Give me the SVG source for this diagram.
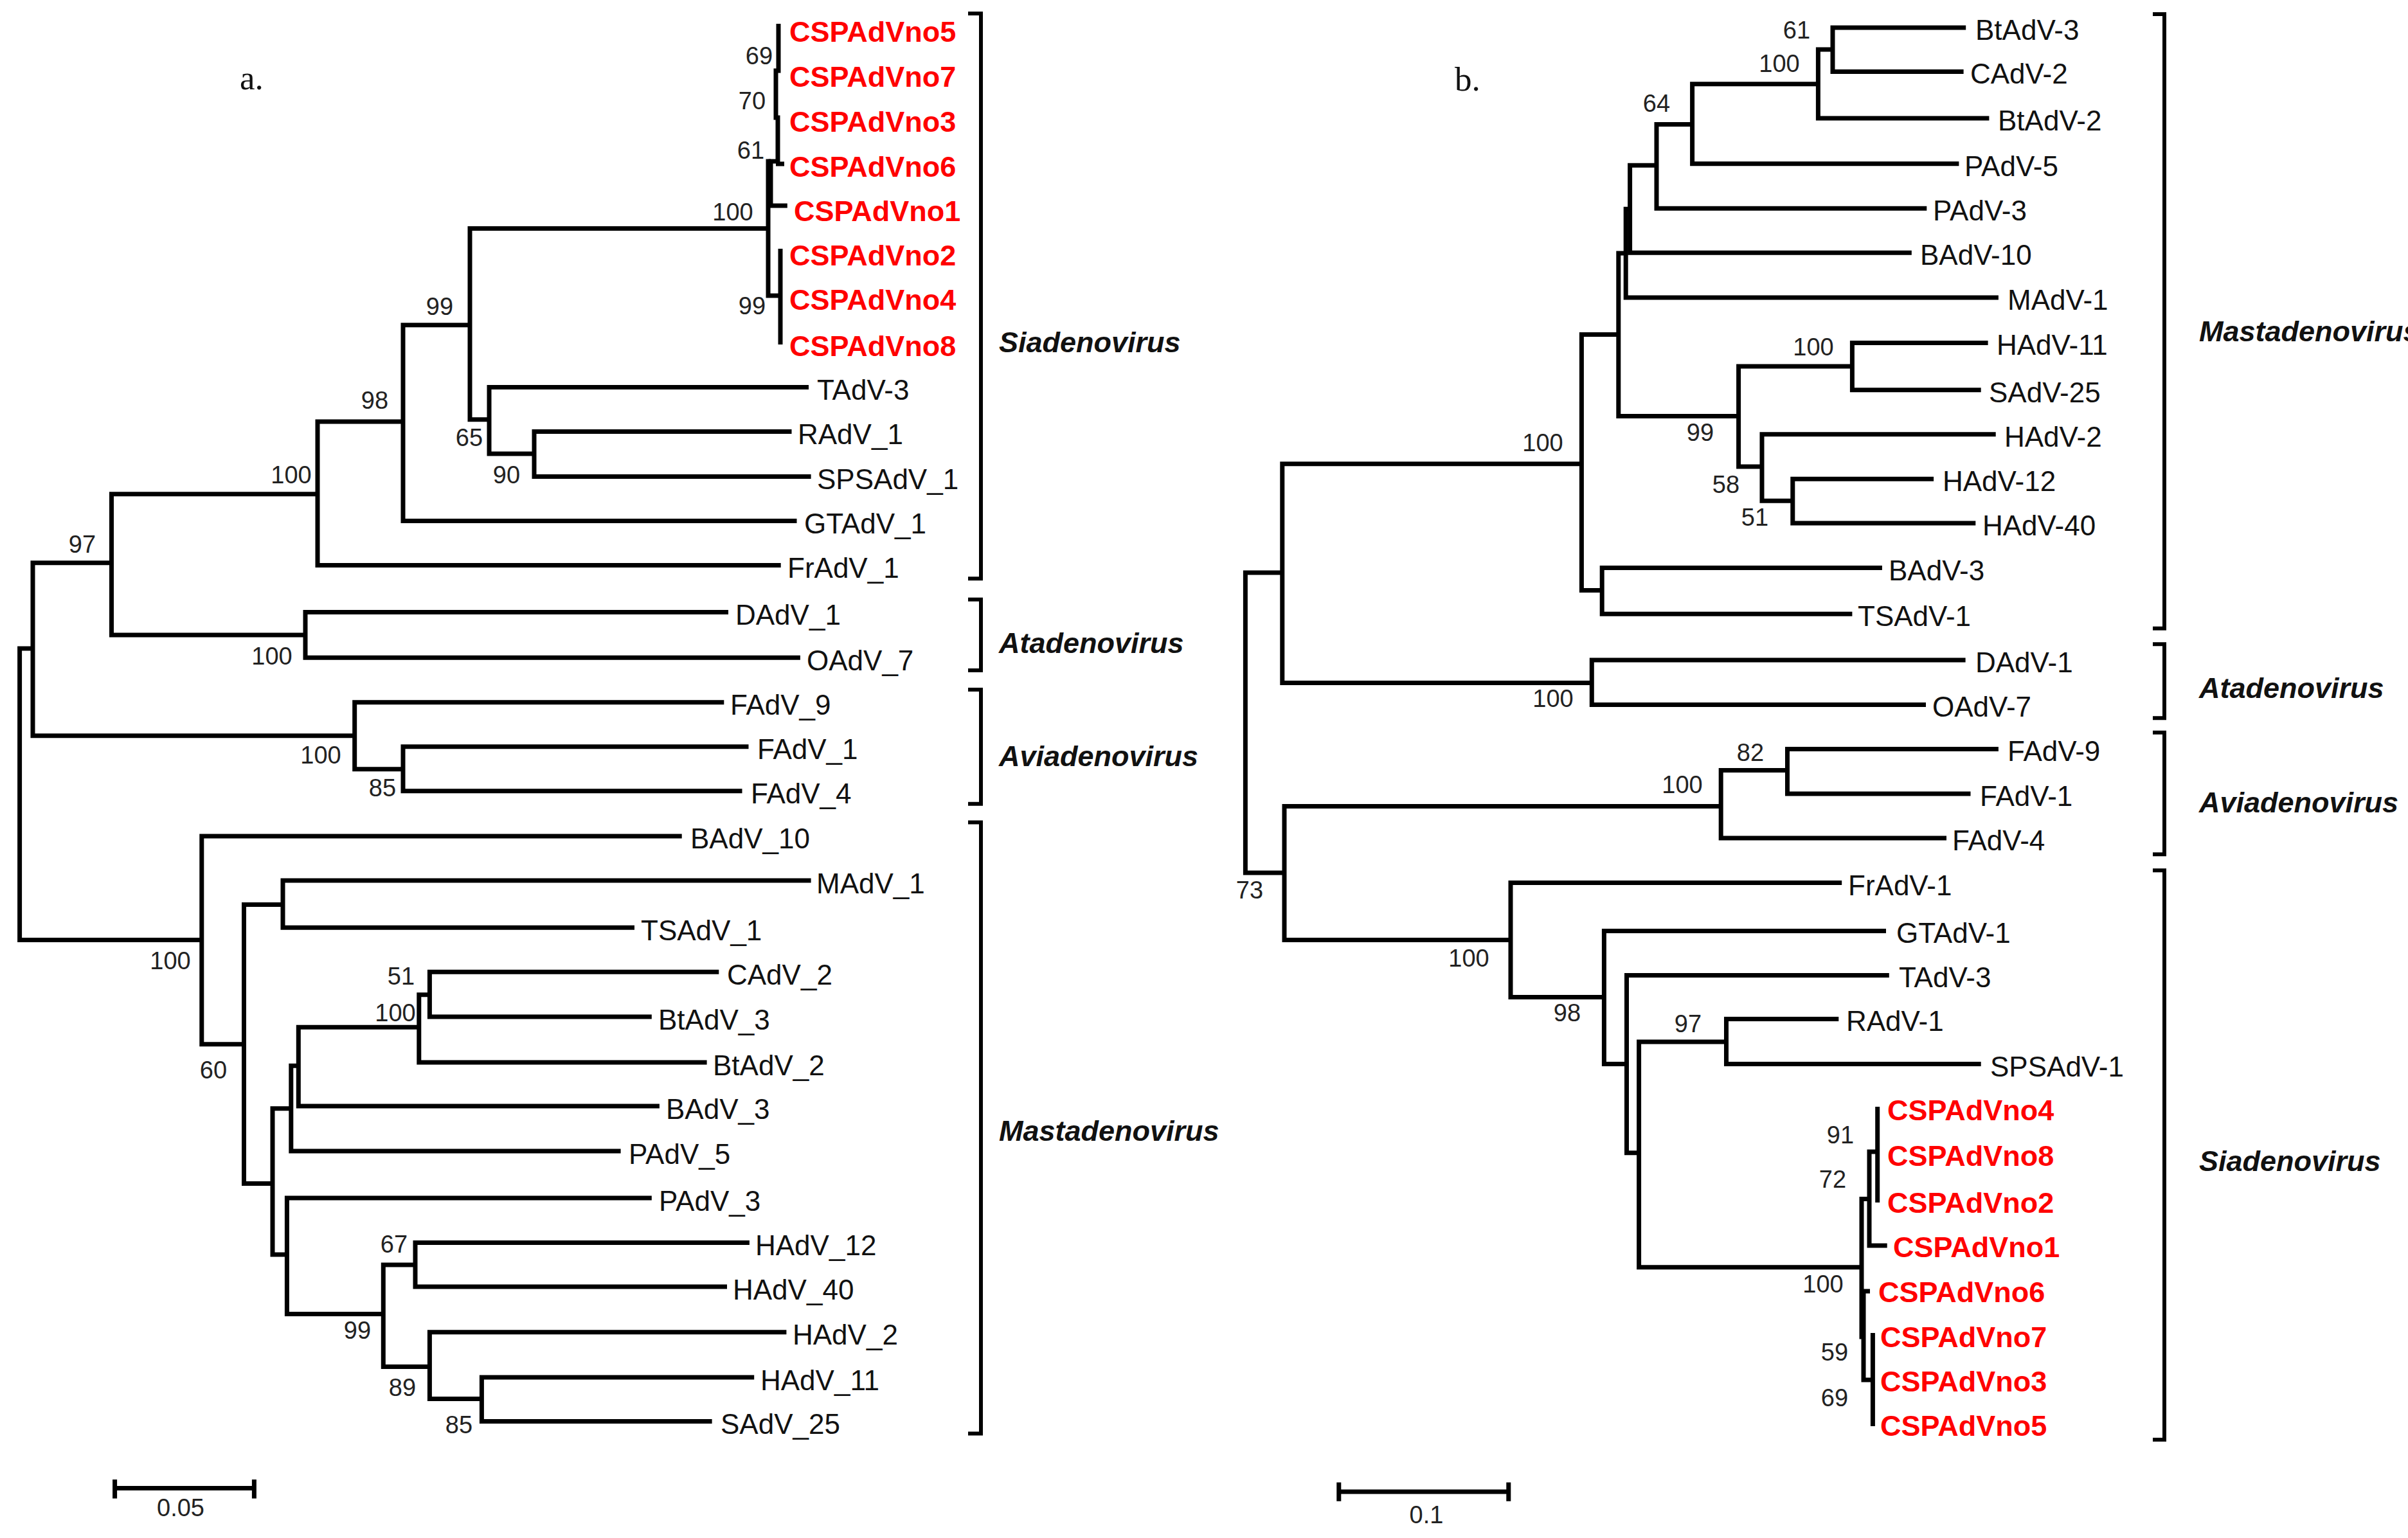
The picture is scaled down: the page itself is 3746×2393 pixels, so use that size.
<svg xmlns="http://www.w3.org/2000/svg" width="3746" height="2393" viewBox="0 0 3746 2393">
<style>
.br{fill:none;stroke:#000;stroke-width:7;stroke-linejoin:miter;stroke-linecap:butt}
.bk{fill:none;stroke:#000;stroke-width:6;stroke-linecap:butt}
.bs{font-family:"Liberation Sans",Arial,sans-serif;font-size:38px;fill:#222;text-anchor:middle}
.lf{font-family:"Liberation Sans",Arial,sans-serif;font-size:44px;fill:#111}
.csp{font-family:"Liberation Sans",Arial,sans-serif;font-size:45px;font-weight:bold;fill:#ff0000}
.cl{font-family:"Liberation Sans",Arial,sans-serif;font-size:45px;font-weight:bold;font-style:italic;fill:#111}
.pn{font-family:"Liberation Serif","Times New Roman",serif;font-size:53px;fill:#111}
</style>
<rect width="3746" height="2393" fill="#fff"/>
<text class="pn" x="373" y="139">a.</text>
<text class="pn" x="2263" y="141">b.</text>

<g id="connectors">
<!-- tree a -->
<path class="br" d="M51 1009H30.6V1462.5H313.8"/>
<path class="br" d="M173.5 875.7H51V1144.8H551.7"/>
<path class="br" d="M494 768.8H173.5V988H475"/>
<path class="br" d="M627 656H494V879.4H1214.7"/>
<path class="br" d="M731 505.8H627V810.5H1239.5"/>
<path class="br" d="M1195 355.6H731V652.7H761"/>
<path class="br" d="M1258 602.5H761V706H831"/>
<path class="br" d="M1231.5 671.5H831V741.6H1261.6"/>
<path class="br" d="M1199 251H1195V460H1214"/>
<path class="br" d="M1214 387V536"/>
<path class="br" d="M1211 37V110H1207V183H1210V251H1199V320H1224.8"/>
<path class="br" d="M1207 255H1220"/>
<path class="br" d="M1133 952.6H475V1023.2H1244.9"/>
<path class="br" d="M1126.3 1092.8H551.7V1196.8H627"/>
<path class="br" d="M1164.5 1161.8H627V1230.8H1154.5"/>
<path class="br" d="M1060.7 1300.9H313.8V1624.8H379.5"/>
<path class="br" d="M440 1407.6H379.5V1841.6H424"/>
<path class="br" d="M1261.6 1370H440V1443.2H987"/>
<path class="br" d="M452.8 1724.7H424V1952H446.4"/>
<path class="br" d="M464.3 1658.3H452.8V1791H965.6"/>
<path class="br" d="M651.8 1598.3H464.3V1721H1025.9"/>
<path class="br" d="M668.4 1547.8H651.8V1653H1099.6"/>
<path class="br" d="M1118.3 1512.2H668.4V1582H1013.8"/>
<path class="br" d="M1013.8 1864H446.4V2044.6H596.3"/>
<path class="br" d="M646 1968H596.3V2126.4H668.4"/>
<path class="br" d="M1165.9 1933.5H646V2002H1131"/>
<path class="br" d="M1223.4 2072.7H668.4V2176.4H749.4"/>
<path class="br" d="M1173.2 2142.9H749.4V2211.4H1107.6"/>
<!-- tree b -->
<path class="br" d="M1994.8 890.9H1937.4V1357.9H1998"/>
<path class="br" d="M2460.4 721.8H1994.8V1062.4H2476.3"/>
<path class="br" d="M2517.8 520.4H2460.4V918.6H2492.2"/>
<path class="br" d="M2529.2 394.1H2517.8V647.5H2704.6"/>
<path class="br" d="M2535.6 325.3H2529.2V462.9H3108.9"/>
<path class="br" d="M2577 257.3H2535.6V393.3H2973.8"/>
<path class="br" d="M2632.6 193.5H2577V324.3H2997.3"/>
<path class="br" d="M2828.4 130.8H2632.6V254.7H3047.4"/>
<path class="br" d="M2851 76.9H2828.4V184.1H3094.4"/>
<path class="br" d="M3058.2 42.9H2851V111.4H3054.6"/>
<path class="br" d="M2881.4 570H2704.6V726H2741"/>
<path class="br" d="M3092.6 533.5H2881.4V606.7H3081.7"/>
<path class="br" d="M3104.7 675.7H2741V779.3H2788.8"/>
<path class="br" d="M3008.1 745.3H2788.8V814H3073.3"/>
<path class="br" d="M2927.9 883.6H2492.2V955.2H2881.4"/>
<path class="br" d="M3057.6 1026.9H2476.3V1096.4H2996"/>
<path class="br" d="M2677.2 1254.4H1998V1462.5H2350"/>
<path class="br" d="M2780.5 1198.4H2677.2V1304H3028"/>
<path class="br" d="M3108.9 1165.5H2780.5V1235H3065.5"/>
<path class="br" d="M2865.2 1373.6H2350V1551.4H2495.4"/>
<path class="br" d="M2934 1448.4H2495.4V1655.6H2530.5"/>
<path class="br" d="M2938.8 1517.4H2530.5V1793.8H2549.6"/>
<path class="br" d="M2685.5 1621H2549.6V1971.8H2896"/>
<path class="br" d="M2860.3 1585.5H2685.5V1655.6H3081.7"/>
<path class="br" d="M2908 1865.5H2896V2080H2899"/>
<path class="br" d="M2920.7 1792H2908V1938H2935.7"/>
<path class="br" d="M2920.7 1722V1871"/>
<path class="br" d="M2899 2009V2147H2913.4"/>
<path class="br" d="M2899 2009H2909"/>
<path class="br" d="M2913.4 2074V2219"/>
</g>

<g id="bootstrap-a">
<text class="bs" x="1181" y="100">69</text>
<text class="bs" x="1170" y="170">70</text>
<text class="bs" x="1168" y="247">61</text>
<text class="bs" x="1140" y="343">100</text>
<text class="bs" x="1170" y="489">99</text>
<text class="bs" x="684" y="490">99</text>
<text class="bs" x="583" y="636">98</text>
<text class="bs" x="730" y="694">65</text>
<text class="bs" x="788" y="752">90</text>
<text class="bs" x="453" y="752">100</text>
<text class="bs" x="128" y="860">97</text>
<text class="bs" x="423" y="1034">100</text>
<text class="bs" x="499" y="1188">100</text>
<text class="bs" x="595" y="1239">85</text>
<text class="bs" x="265" y="1508">100</text>
<text class="bs" x="624" y="1532">51</text>
<text class="bs" x="615" y="1589">100</text>
<text class="bs" x="332" y="1678">60</text>
<text class="bs" x="613" y="1949">67</text>
<text class="bs" x="556" y="2083">99</text>
<text class="bs" x="626" y="2172">89</text>
<text class="bs" x="714" y="2230">85</text>
</g>
<g id="bootstrap-b">
<text class="bs" x="2795" y="60">61</text>
<text class="bs" x="2768" y="112">100</text>
<text class="bs" x="2577" y="174">64</text>
<text class="bs" x="2821" y="553">100</text>
<text class="bs" x="2645" y="686">99</text>
<text class="bs" x="2400" y="702">100</text>
<text class="bs" x="2685" y="767">58</text>
<text class="bs" x="2730" y="818">51</text>
<text class="bs" x="2416" y="1100">100</text>
<text class="bs" x="2723" y="1184">82</text>
<text class="bs" x="2617" y="1234">100</text>
<text class="bs" x="1944" y="1398">73</text>
<text class="bs" x="2285" y="1504">100</text>
<text class="bs" x="2438" y="1589">98</text>
<text class="bs" x="2626" y="1606">97</text>
<text class="bs" x="2863" y="1779">91</text>
<text class="bs" x="2851" y="1848">72</text>
<text class="bs" x="2836" y="2011">100</text>
<text class="bs" x="2854" y="2117">59</text>
<text class="bs" x="2854" y="2188">69</text>
</g>

<g id="leaves-a">
<g id="a-CSPAdVno5"><text class="csp" x="1228" y="65">CSPAdVno5</text></g>
<g id="a-CSPAdVno7"><text class="csp" x="1228" y="135">CSPAdVno7</text></g>
<g id="a-CSPAdVno3"><text class="csp" x="1228" y="205">CSPAdVno3</text></g>
<g id="a-CSPAdVno6"><text class="csp" x="1228" y="275">CSPAdVno6</text></g>
<g id="a-CSPAdVno1"><text class="csp" x="1235" y="344">CSPAdVno1</text></g>
<g id="a-CSPAdVno2"><text class="csp" x="1228" y="413">CSPAdVno2</text></g>
<g id="a-CSPAdVno4"><text class="csp" x="1228" y="482">CSPAdVno4</text></g>
<g id="a-CSPAdVno8"><text class="csp" x="1228" y="554">CSPAdVno8</text></g>
<g id="a-TAdV-3"><text class="lf" x="1271" y="622">TAdV-3</text></g>
<g id="a-RAdV_1"><text class="lf" x="1241" y="691">RAdV_1</text></g>
<g id="a-SPSAdV_1"><text class="lf" x="1271" y="761">SPSAdV_1</text></g>
<g id="a-GTAdV_1"><text class="lf" x="1251" y="830">GTAdV_1</text></g>
<g id="a-FrAdV_1"><text class="lf" x="1225" y="899">FrAdV_1</text></g>
<g id="a-DAdV_1"><text class="lf" x="1144" y="972">DAdV_1</text></g>
<g id="a-OAdV_7"><text class="lf" x="1255" y="1043">OAdV_7</text></g>
<g id="a-FAdV_9"><text class="lf" x="1136" y="1112">FAdV_9</text></g>
<g id="a-FAdV_1"><text class="lf" x="1178" y="1181">FAdV_1</text></g>
<g id="a-FAdV_4"><text class="lf" x="1168" y="1250">FAdV_4</text></g>
<g id="a-BAdV_10"><text class="lf" x="1074" y="1320">BAdV_10</text></g>
<g id="a-MAdV_1"><text class="lf" x="1270" y="1390">MAdV_1</text></g>
<g id="a-TSAdV_1"><text class="lf" x="997" y="1463">TSAdV_1</text></g>
<g id="a-CAdV_2"><text class="lf" x="1131" y="1532">CAdV_2</text></g>
<g id="a-BtAdV_3"><text class="lf" x="1024" y="1602">BtAdV_3</text></g>
<g id="a-BtAdV_2"><text class="lf" x="1109" y="1673">BtAdV_2</text></g>
<g id="a-BAdV_3"><text class="lf" x="1036" y="1741">BAdV_3</text></g>
<g id="a-PAdV_5"><text class="lf" x="978" y="1811">PAdV_5</text></g>
<g id="a-PAdV_3"><text class="lf" x="1025" y="1884">PAdV_3</text></g>
<g id="a-HAdV_12"><text class="lf" x="1175" y="1953">HAdV_12</text></g>
<g id="a-HAdV_40"><text class="lf" x="1140" y="2022">HAdV_40</text></g>
<g id="a-HAdV_2"><text class="lf" x="1233" y="2092">HAdV_2</text></g>
<g id="a-HAdV_11"><text class="lf" x="1183" y="2163">HAdV_11</text></g>
<g id="a-SAdV_25"><text class="lf" x="1121" y="2231">SAdV_25</text></g>
</g>

<g id="leaves-b">
<g id="b-BtAdV-3"><text class="lf" x="3073" y="62">BtAdV-3</text></g>
<g id="b-CAdV-2"><text class="lf" x="3065" y="130">CAdV-2</text></g>
<g id="b-BtAdV-2"><text class="lf" x="3108" y="203">BtAdV-2</text></g>
<g id="b-PAdV-5"><text class="lf" x="3056" y="274">PAdV-5</text></g>
<g id="b-PAdV-3"><text class="lf" x="3007" y="343">PAdV-3</text></g>
<g id="b-BAdV-10"><text class="lf" x="2987" y="412">BAdV-10</text></g>
<g id="b-MAdV-1"><text class="lf" x="3123" y="482">MAdV-1</text></g>
<g id="b-HAdV-11"><text class="lf" x="3106" y="552">HAdV-11</text></g>
<g id="b-SAdV-25"><text class="lf" x="3094" y="626">SAdV-25</text></g>
<g id="b-HAdV-2"><text class="lf" x="3118" y="695">HAdV-2</text></g>
<g id="b-HAdV-12"><text class="lf" x="3022" y="764">HAdV-12</text></g>
<g id="b-HAdV-40"><text class="lf" x="3084" y="833">HAdV-40</text></g>
<g id="b-BAdV-3"><text class="lf" x="2938" y="903">BAdV-3</text></g>
<g id="b-TSAdV-1"><text class="lf" x="2890" y="974">TSAdV-1</text></g>
<g id="b-DAdV-1"><text class="lf" x="3073" y="1046">DAdV-1</text></g>
<g id="b-OAdV-7"><text class="lf" x="3006" y="1115">OAdV-7</text></g>
<g id="b-FAdV-9"><text class="lf" x="3123" y="1184">FAdV-9</text></g>
<g id="b-FAdV-1"><text class="lf" x="3080" y="1254">FAdV-1</text></g>
<g id="b-FAdV-4"><text class="lf" x="3037" y="1323">FAdV-4</text></g>
<g id="b-FrAdV-1"><text class="lf" x="2875" y="1393">FrAdV-1</text></g>
<g id="b-GTAdV-1"><text class="lf" x="2950" y="1467">GTAdV-1</text></g>
<g id="b-TAdV-3"><text class="lf" x="2954" y="1536">TAdV-3</text></g>
<g id="b-RAdV-1"><text class="lf" x="2872" y="1604">RAdV-1</text></g>
<g id="b-SPSAdV-1"><text class="lf" x="3096" y="1675">SPSAdV-1</text></g>
<g id="b-CSPAdVno4"><text class="csp" x="2936" y="1743">CSPAdVno4</text></g>
<g id="b-CSPAdVno8"><text class="csp" x="2936" y="1814">CSPAdVno8</text></g>
<g id="b-CSPAdVno2"><text class="csp" x="2936" y="1887">CSPAdVno2</text></g>
<g id="b-CSPAdVno1"><text class="csp" x="2945" y="1956">CSPAdVno1</text></g>
<g id="b-CSPAdVno6"><text class="csp" x="2922" y="2026">CSPAdVno6</text></g>
<g id="b-CSPAdVno7"><text class="csp" x="2925" y="2096">CSPAdVno7</text></g>
<g id="b-CSPAdVno3"><text class="csp" x="2925" y="2165">CSPAdVno3</text></g>
<g id="b-CSPAdVno5"><text class="csp" x="2925" y="2234">CSPAdVno5</text></g>
</g>

<g id="clades-a">
<path class="bk" d="M1506 21H1526V900.3H1506"/>
<path class="bk" d="M1506 932.7H1526V1043H1506"/>
<path class="bk" d="M1506 1072.9H1526V1250.7H1506"/>
<path class="bk" d="M1506 1279.5H1526V2230.6H1506"/>
<text class="cl" x="1554" y="548">Siadenovirus</text>
<text class="cl" x="1554" y="1016">Atadenovirus</text>
<text class="cl" x="1554" y="1192">Aviadenovirus</text>
<text class="cl" x="1554" y="1775">Mastadenovirus</text>
</g>
<g id="clades-b">
<path class="bk" d="M3349 22H3367V977.7H3349"/>
<path class="bk" d="M3349 1002.3H3367V1117.3H3349"/>
<path class="bk" d="M3349 1139.8H3367V1329.2H3349"/>
<path class="bk" d="M3349 1354.3H3367V2240.1H3349"/>
<text class="cl" x="3421" y="531">Mastadenovirus</text>
<text class="cl" x="3421" y="1086">Atadenovirus</text>
<text class="cl" x="3421" y="1264">Aviadenovirus</text>
<text class="cl" x="3421" y="1822">Siadenovirus</text>
</g>

<g id="scale-a">
<path class="br" d="M178.6 2315.6H395.4M178.6 2302V2331.5M395.4 2302V2331.5"/>
<text class="bs" x="281" y="2359">0.05</text>
</g>
<g id="scale-b">
<path class="br" d="M2082.8 2321H2346.8M2082.8 2306.5V2335.8M2346.8 2306.5V2335.8"/>
<text class="bs" x="2219" y="2370">0.1</text>
</g>
</svg>
